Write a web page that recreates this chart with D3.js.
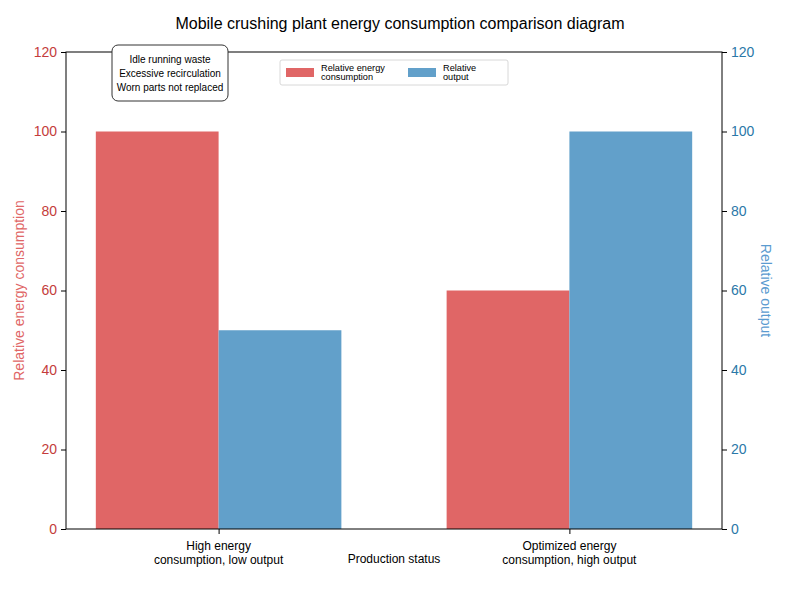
<!DOCTYPE html>
<html>
<head>
<meta charset="utf-8">
<script src="https://cdn.jsdelivr.net/npm/d3@7"></script>
<style>
  body { margin: 0; background: #fff; }
  svg text { font-family: "Liberation Sans", Arial, sans-serif; }
</style>
</head>
<body>
<div id="vis"></div>
<script>
// chart data
var categories = ["High energy\nconsumption, low output", "Optimized energy\nconsumption, high output"];
var energyValues = [100, 60];
var outputValues = [50, 100];
var yTicks = [0, 20, 40, 60, 80, 100, 120];
var noteLines = ["Idle running waste", "Excessive recirculation", "Worn parts not replaced"];
var legendLabels = ["Relative energy\nconsumption", "Relative\noutput"];

var width = 789;
var height = 589;

var margin = {
    top: 52,
    bottom: 60,
    left: 66,
    right: 67
};

var redBar = "#e06666";
var blueBar = "#62a0ca";

var svg = d3.select('#vis')
    .append('svg')
    .attr('width', width)
    .attr('height', height);

var g = svg.append('g')
    .attr('transform', 'translate(' + margin.left + ',' + margin.top + ')');

var w = width - margin.left - margin.right;
var h = height - margin.top - margin.bottom;

var barWidth = 0.35;

// numeric x like matplotlib: positions 0,1 with 5% margins
var x_scale = d3.scaleLinear()
    .domain([-0.435, 1.435])
    .range([0, w]);

var y_left = d3.scaleLinear().domain([0, 120]).range([h, 0]);
var y_right = d3.scaleLinear().domain([0, 120]).range([h, 0]);

// bars
g.selectAll('.bar-e')
    .data(energyValues)
    .enter()
    .append('rect')
    .attr('class', 'bar-e')
    .attr('x', function(d, i) { return x_scale(i - barWidth); })
    .attr('width', function() { return x_scale(barWidth) - x_scale(0); })
    .attr('y', function(d) { return y_left(d); })
    .attr('height', function(d) { return h - y_left(d); })
    .attr('fill', redBar);

g.selectAll('.bar-o')
    .data(outputValues)
    .enter()
    .append('rect')
    .attr('class', 'bar-o')
    .attr('x', function(d, i) { return x_scale(i); })
    .attr('width', function() { return x_scale(barWidth) - x_scale(0); })
    .attr('y', function(d) { return y_right(d); })
    .attr('height', function(d) { return h - y_right(d); })
    .attr('fill', blueBar);

// frame
g.append('rect')
    .attr('width', w)
    .attr('height', h)
    .attr('fill', 'none')
    .attr('stroke', '#000')
    .attr('stroke-width', 1);

// left axis
var leftAxis = g.append('g')
    .call(d3.axisLeft(y_left).tickValues(yTicks).tickSize(5).tickPadding(4));
leftAxis.select('.domain').remove();
leftAxis.selectAll('text').attr('fill', '#c43c3c').style('font-size', '14px');

// right axis
var rightAxis = g.append('g')
    .attr('transform', 'translate(' + w + ',0)')
    .call(d3.axisRight(y_right).tickValues(yTicks).tickSize(5).tickPadding(4));
rightAxis.select('.domain').remove();
rightAxis.selectAll('text').attr('fill', '#2b78a8').style('font-size', '14px');

// x axis
var xAxis = g.append('g')
    .attr('transform', 'translate(0,' + h + ')')
    .call(d3.axisBottom(x_scale).tickValues([0, 1]).tickSize(5).tickFormat(''));
xAxis.select('.domain').remove();

categories.forEach(function(c, i) {
    var t = g.append('text')
        .attr('x', x_scale(i))
        .attr('y', h + 21)
        .attr('text-anchor', 'middle')
        .style('font-size', '12px')
        .attr('fill', '#000');
    c.split('\n').forEach(function(line, j) {
        t.append('tspan')
            .attr('x', x_scale(i))
            .attr('dy', j === 0 ? 0 : 14)
            .text(line);
    });
});

// x label
g.append('text')
    .attr('x', w / 2)
    .attr('y', h + 34)
    .attr('text-anchor', 'middle')
    .style('font-size', '12px')
    .text('Production status');

// y labels
svg.append('text')
    .attr('transform', 'translate(24,' + (margin.top + h / 2) + ') rotate(-90)')
    .attr('text-anchor', 'middle')
    .style('font-size', '14px')
    .attr('fill', '#e06666')
    .text('Relative energy consumption');

svg.append('text')
    .attr('transform', 'translate(761,' + (margin.top + h / 2) + ') rotate(90)')
    .attr('text-anchor', 'middle')
    .style('font-size', '14px')
    .attr('fill', '#5b9bd0')
    .text('Relative output');

// title
svg.append('text')
    .attr('x', 400)
    .attr('y', 29)
    .attr('text-anchor', 'middle')
    .style('font-size', '16px')
    .text('Mobile crushing plant energy consumption comparison diagram');

// annotation box
var note = svg.append('g').attr('transform', 'translate(112,45)');
note.append('rect')
    .attr('width', 116)
    .attr('height', 56)
    .attr('rx', 6)
    .attr('fill', '#fff')
    .attr('stroke', '#333')
    .attr('stroke-width', 1);
noteLines.forEach(function(line, i) {
    note.append('text')
        .attr('x', 58)
        .attr('y', 18 + i * 14)
        .attr('text-anchor', 'middle')
        .style('font-size', '10px')
        .text(line);
});

// legend
var legend = svg.append('g').attr('transform', 'translate(280,60)');
legend.append('rect')
    .attr('width', 228)
    .attr('height', 25)
    .attr('rx', 2)
    .attr('fill', '#fff')
    .attr('stroke', '#d8d8d8');
var legendColors = [redBar, blueBar];
var legendX = [6, 128];
legendLabels.forEach(function(lbl, i) {
    legend.append('rect')
        .attr('x', legendX[i])
        .attr('y', 8)
        .attr('width', 28)
        .attr('height', 9)
        .attr('fill', legendColors[i]);
    var t = legend.append('text')
        .attr('x', legendX[i] + 35)
        .attr('y', 11)
        .style('font-size', '9.2px');
    lbl.split('\n').forEach(function(line, j) {
        t.append('tspan')
            .attr('x', legendX[i] + 35)
            .attr('dy', j === 0 ? 0 : 8.5)
            .text(line);
    });
});
</script>
</body>
</html>
